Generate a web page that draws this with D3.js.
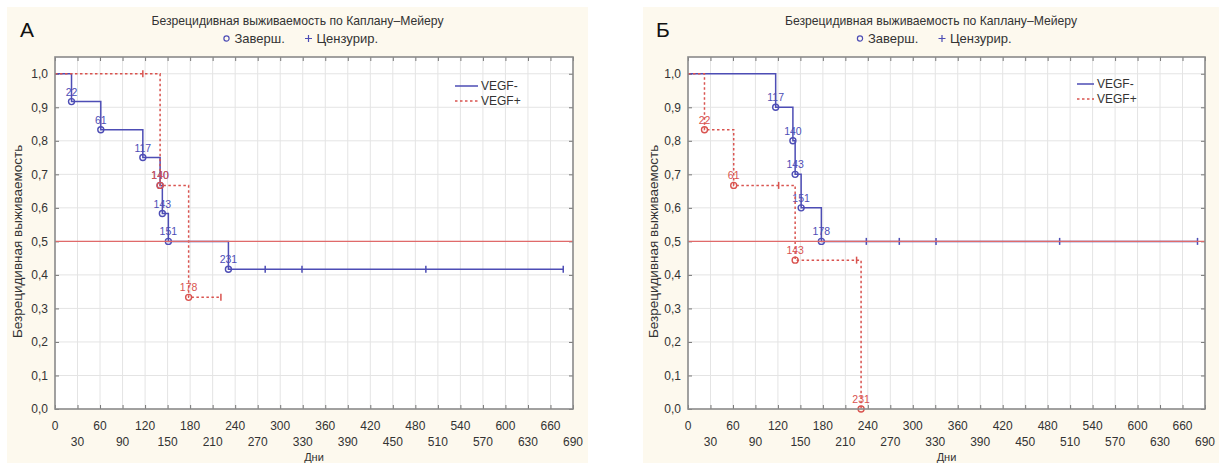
<!DOCTYPE html>
<html><head><meta charset="utf-8">
<script src="https://cdn.jsdelivr.net/npm/d3@7"></script>
<style>
html,body{margin:0;padding:0;background:#fff;}
svg{display:block;font-family:"Liberation Sans",Arial,sans-serif;}
</style></head>
<body>
<svg id="chart" width="1219" height="463"></svg>
<script>
// ---- Data ----
const titleText = "Безрецидивная выживаемость по Каплану–Мейеру";
const yTitle = "Безрецидивная выживаемость";
const xTitle = "Дни";
const seriesNames = ["VEGF-", "VEGF+"];
const xTicks = [0,30,60,90,120,150,180,210,240,270,300,330,360,390,420,450,480,510,540,570,600,630,660,690];
const yTicks = [0,0.1,0.2,0.3,0.4,0.5,0.6,0.7,0.8,0.9,1.0];

// Panel А
const A_negEventDays = [22, 61, 117, 140, 143, 151, 231];
const A_negEventSurv = [0.917, 0.833, 0.75, 0.667, 0.583, 0.5, 0.417];
const A_negCensDays  = [280, 329, 494, 677];
const A_posEventDays = [140, 178];
const A_posEventSurv = [0.667, 0.333];
const A_posCensDays  = [117, 221];

// Panel Б
const B_negEventDays = [117, 140, 143, 151, 178];
const B_negEventSurv = [0.9, 0.8, 0.7, 0.6, 0.5];
const B_negCensDays  = [238, 282, 331, 496, 680];
const B_posEventDays = [22, 61, 143, 231];
const B_posEventSurv = [0.833, 0.667, 0.444, 0.0];
const B_posCensDays  = [121, 225];

const median = 0.5;

// ---- Styles ----
const cream = "#fdf9ee";
const blue = "#4d4db5";
const red = "#d9534f";
const gridC = "#e4e4e4";

const svg = d3.select("#chart");

function drawPanel(opt){
  const g = svg.append("g");
  g.append("rect").attr("x", opt.bx).attr("y", 7).attr("width", opt.bw).attr("height", 463-7).attr("fill", cream);

  const x = d3.scaleLinear().domain([0, 690]).range([opt.px0, opt.px1]);
  const y = d3.scaleLinear().domain([0, 1.05]).range([409, 57]);
  const cx = opt.bx + opt.bw/2;

  // letter
  g.append("text").attr("x", opt.bx+13).attr("y", 37).attr("font-size", 21).attr("fill","#111").text(opt.letter);
  // title
  g.append("text").attr("x", cx).attr("y", 25).attr("text-anchor","middle").attr("font-size", 12.2).attr("fill","#333").text(titleText);
  // marker legend
  const lg = g.append("g").attr("transform", `translate(${cx},43)`);
  lg.append("circle").attr("cx", -71).attr("cy", -4.5).attr("r", 2.6).attr("fill","none").attr("stroke", blue).attr("stroke-width",1.2);
  lg.append("text").attr("x", -63).attr("y", 0).attr("font-size", 13).attr("fill","#333").text("Заверш.");
  lg.append("path").attr("d","M11,-8V-1M7.5,-4.5H14.5").attr("stroke", blue).attr("stroke-width",1.2);
  lg.append("text").attr("x", 19).attr("y", 0).attr("font-size", 13).attr("fill","#333").text("Цензурир.");

  // plot background
  g.append("rect").attr("x", opt.px0).attr("y", 57).attr("width", opt.px1-opt.px0).attr("height", 409-57).attr("fill","#fff");
  // grid
  g.append("g").selectAll("line").data(xTicks.slice(1,-1)).join("line")
    .attr("x1", d=>x(d)).attr("x2", d=>x(d)).attr("y1",57).attr("y2",409).attr("stroke",gridC).attr("stroke-width",1);
  g.append("g").selectAll("line").data(yTicks.slice(1)).join("line")
    .attr("x1", opt.px0).attr("x2", opt.px1).attr("y1", d=>y(d)).attr("y2", d=>y(d)).attr("stroke",gridC).attr("stroke-width",1);

  // axes
  const xb = g.append("g").attr("transform","translate(0,409)")
    .call(d3.axisBottom(x).tickValues(xTicks).tickSize(-4).tickPadding(0).tickFormat(""));
  const xt = g.append("g").attr("transform","translate(0,57)")
    .call(d3.axisTop(x).tickValues(xTicks).tickSize(-4).tickFormat(""));
  const yl = g.append("g").attr("transform",`translate(${opt.px0},0)`)
    .call(d3.axisLeft(y).tickValues(yTicks).tickSize(-4).tickPadding(7).tickFormat(d=>d3.format(".1f")(d).replace(".",",")));
  const yr = g.append("g").attr("transform",`translate(${opt.px1},0)`)
    .call(d3.axisRight(y).tickValues(yTicks).tickSize(-4).tickFormat(""));
  [xb,xt,yl,yr].forEach(a=>{
    a.select(".domain").remove();
    a.selectAll(".tick line").attr("stroke","#777");
  });
  yl.selectAll(".tick text").attr("font-size",12).attr("fill","#333").attr("font-family","Liberation Sans, Arial, sans-serif");
  // x tick labels in two rows
  g.append("g").selectAll("text").data(xTicks).join("text")
    .attr("x", d=>x(d)).attr("y", (d,i)=> i%2===0 ? 430 : 446)
    .attr("text-anchor","middle").attr("font-size",12).attr("fill","#333").text(d=>d);

  // axis titles
  g.append("text").attr("transform",`translate(${opt.bx+15},${y(0.5)}) rotate(-90)`)
    .attr("text-anchor","middle").attr("font-size",13.5).attr("fill","#333").text(yTitle);
  g.append("text").attr("x", (opt.px0+opt.px1)/2).attr("y", 461).attr("text-anchor","middle")
    .attr("font-size",11).attr("fill","#333").text(xTitle);

  // series
  function drawSeries(evD, evS, cD, color, dash){
    const pts = evD.map((d,i)=>({t:d, s:evS[i], ev:true})).concat(cD.map(d=>({t:d, ev:false})));
    pts.sort((a,b)=>a.t-b.t);
    let s = 1.0; const path = d3.path(); path.moveTo(x(0), y(1));
    const marks = [];
    pts.forEach(p=>{
      path.lineTo(x(p.t), y(s));
      if(p.ev){ s = p.s; path.lineTo(x(p.t), y(s)); }
      marks.push({t:p.t, s:s, ev:p.ev});
    });
    const sg = g.append("g");
    sg.append("path").attr("d", path.toString()).attr("fill","none").attr("stroke", color)
      .attr("stroke-width", 1.5).attr("stroke-dasharray", dash);
    sg.selectAll("circle").data(marks.filter(m=>m.ev)).join("circle")
      .attr("cx", m=>x(m.t)).attr("cy", m=>y(m.s)).attr("r", 3)
      .attr("fill","none").attr("stroke", color).attr("stroke-width", 1.4);
    sg.selectAll("text").data(marks.filter(m=>m.ev)).join("text")
      .attr("x", m=>x(m.t)).attr("y", m=>y(m.s)-6).attr("text-anchor","middle")
      .attr("font-size", 10.5).attr("fill", color).text(m=>m.t);
    sg.selectAll("line").data(marks.filter(m=>!m.ev)).join("line")
      .attr("x1", m=>x(m.t)).attr("x2", m=>x(m.t)).attr("y1", m=>y(m.s)-3.5).attr("y2", m=>y(m.s)+3.5)
      .attr("stroke", color).attr("stroke-width", 1.5);
  }
  drawSeries(opt.negD, opt.negS, opt.negC, blue, null);
  drawSeries(opt.posD, opt.posS, opt.posC, red, "2.5,2.5");

  // median line
  g.append("line").attr("x1", opt.px0).attr("x2", opt.px1).attr("y1", y(median)).attr("y2", y(median))
    .attr("stroke", "#e06a6a").attr("stroke-width", 1.3);

  // border
  g.append("rect").attr("x", opt.px0).attr("y", 57).attr("width", opt.px1-opt.px0).attr("height", 409-57)
    .attr("fill","none").attr("stroke","#8a8a8a").attr("stroke-width",1.6);

  // series legend
  const L = g.append("g").attr("transform",`translate(${opt.lx},${opt.ly})`);
  L.append("line").attr("x1",0).attr("x2",opt.ll).attr("y1",0).attr("y2",0).attr("stroke",blue).attr("stroke-width",1.5);
  L.append("text").attr("x",opt.ll+3).attr("y",4).attr("font-size",12).attr("fill","#333").text(seriesNames[0]);
  L.append("line").attr("x1",0).attr("x2",opt.ll).attr("y1",15).attr("y2",15).attr("stroke",red).attr("stroke-width",1.5).attr("stroke-dasharray","2.5,2.5");
  L.append("text").attr("x",opt.ll+3).attr("y",19).attr("font-size",12).attr("fill","#333").text(seriesNames[1]);
}

drawPanel({letter:"А", bx:7, bw:581, px0:55, px1:573,
  negD:A_negEventDays, negS:A_negEventSurv, negC:A_negCensDays,
  posD:A_posEventDays, posS:A_posEventSurv, posC:A_posCensDays,
  lx:455, ly:86, ll:23});
drawPanel({letter:"Б", bx:643, bw:576, px0:688, px1:1205,
  negD:B_negEventDays, negS:B_negEventSurv, negC:B_negCensDays,
  posD:B_posEventDays, posS:B_posEventSurv, posC:B_posCensDays,
  lx:1077, ly:84, ll:17});
</script>
</body></html>
